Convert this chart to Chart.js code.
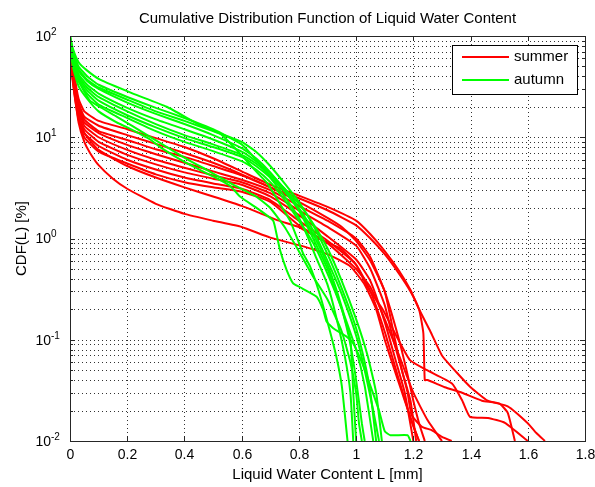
<!DOCTYPE html>
<html>
<head>
<meta charset="utf-8">
<script src="https://cdn.jsdelivr.net/npm/chart.js@4.4.1/dist/chart.umd.min.js"></script>
<style>
  html, body { margin: 0; padding: 0; background: #fff; }
  #wrap { width: 595px; height: 487px; }
</style>
</head>
<body>
<div id="wrap"><canvas id="cdfChart" width="595" height="487"></canvas></div>
<script>
// axis ticks: L in mm, CDF in decades (10^n %)
const lwcTicks = [0, 0.2, 0.4, 0.6, 0.8, 1, 1.2, 1.4, 1.6, 1.8];
const cdfDecades = [-2, -1, 0, 1, 2];
const seasonNames = ['summer', 'autumn'];

// summer runs, [L, CDF %]
const summerRuns = [
  [[0.004,78],[0.015,42],[0.03,24],[0.05,18],[0.1,14.5],[0.2,12],[0.3,9.8],[0.4,8],[0.5,6.2],[0.6,4.6],[0.7,3.4],[0.8,2.65],[0.9,2.05],[1.0,1.5],[1.05,1.1],[1.1,0.75],[1.15,0.48],[1.19,0.31],[1.22,0.2],[1.26,0.12],[1.3,0.07],[1.35,0.048],[1.4,0.034],[1.46,0.025],[1.53,0.022],[1.6,0.015],[1.63,0.012],[1.66,0.01]],
  [[0.004,70],[0.015,38],[0.03,21],[0.05,15],[0.1,11.5],[0.2,9.4],[0.3,7.6],[0.4,6.4],[0.5,5.2],[0.6,4.2],[0.7,3.2],[0.8,2.5],[0.9,1.9],[1.0,1.35],[1.05,1.0],[1.1,0.7],[1.15,0.45],[1.19,0.3],[1.22,0.2],[1.235,0.116],[1.24,0.04],[1.25,0.04],[1.31,0.034],[1.37,0.03],[1.44,0.025],[1.5,0.0235],[1.53,0.019],[1.555,0.01]],
  [[0.004,60],[0.015,33],[0.03,17],[0.05,11],[0.1,7.5],[0.2,5.2],[0.3,4.0],[0.4,3.2],[0.5,2.6],[0.6,2.1],[0.66,1.8],[0.73,1.5],[0.8,1.3],[0.87,1.0],[0.944,0.8],[1.0,0.55],[1.04,0.33],[1.094,0.197],[1.143,0.106],[1.188,0.063],[1.248,0.05],[1.335,0.037],[1.37,0.0254],[1.398,0.0173],[1.461,0.0169],[1.52,0.0151],[1.6,0.01]],
  [[0.004,52],[0.015,28],[0.03,14],[0.05,9],[0.07,7],[0.1,5.3],[0.15,3.9],[0.2,3.1],[0.3,2.2],[0.4,1.75],[0.5,1.5],[0.6,1.3],[0.7,1.02],[0.8,0.86],[0.9,0.7],[0.98,0.53],[1.03,0.35],[1.07,0.2],[1.1,0.1],[1.14,0.045],[1.17,0.025],[1.2,0.014],[1.22,0.01]],
  [[0.004,72],[0.015,40],[0.03,22],[0.05,16],[0.1,13],[0.2,10.5],[0.3,8.6],[0.4,7.0],[0.5,5.6],[0.6,4.3],[0.7,3.2],[0.8,2.3],[0.9,1.6],[0.95,1.3],[1.0,0.95],[1.05,0.6],[1.1,0.3],[1.136,0.1],[1.16,0.05],[1.18,0.03],[1.194,0.018],[1.23,0.0138],[1.264,0.0128],[1.3,0.011],[1.334,0.01]],
  [[0.004,65],[0.015,36],[0.03,20],[0.05,14],[0.1,11],[0.2,8.4],[0.3,6.8],[0.4,5.6],[0.5,4.6],[0.6,3.8],[0.7,3.0],[0.8,2.1],[0.9,1.5],[1.0,1.0],[1.05,0.65],[1.1,0.3],[1.15,0.1],[1.18,0.045],[1.2,0.025],[1.22,0.015],[1.24,0.01]],
  [[0.004,58],[0.015,34],[0.03,19],[0.05,13],[0.1,10],[0.2,7.5],[0.3,6.0],[0.4,5.0],[0.5,4.2],[0.6,3.6],[0.7,2.8],[0.8,1.9],[0.9,1.3],[1.0,0.85],[1.05,0.5],[1.1,0.22],[1.13,0.1],[1.16,0.05],[1.19,0.025],[1.21,0.01]],
  [[0.004,55],[0.015,31],[0.03,17],[0.05,12],[0.1,9],[0.2,6.7],[0.3,5.4],[0.4,4.5],[0.5,3.9],[0.6,3.4],[0.7,2.6],[0.8,1.7],[0.9,1.05],[1.0,0.62],[1.05,0.38],[1.1,0.15],[1.14,0.06],[1.17,0.03],[1.2,0.01]],
  [[0.004,50],[0.015,29],[0.03,16],[0.05,11],[0.1,8.2],[0.2,6.0],[0.3,4.8],[0.4,4.0],[0.5,3.5],[0.6,3.1],[0.7,2.4],[0.8,1.5],[0.9,0.95],[1.0,0.55],[1.05,0.3],[1.1,0.12],[1.15,0.04],[1.19,0.017],[1.22,0.01]],
  [[0.004,48],[0.015,27],[0.03,15],[0.05,10],[0.1,7.2],[0.2,5.5],[0.3,4.3],[0.4,3.6],[0.5,3.2],[0.6,2.9],[0.7,2.3],[0.8,1.35],[0.9,0.9],[1.0,0.5],[1.05,0.33],[1.1,0.16],[1.15,0.07],[1.2,0.03],[1.25,0.016],[1.3,0.01]]
];

// autumn runs, [L, CDF %]
const autumnRuns = [
  [[0,100],[0.01,75],[0.03,55],[0.058,46],[0.105,37],[0.22,27],[0.338,20],[0.454,13.2],[0.524,10.9],[0.571,8.1],[0.618,5.8],[0.66,4.3],[0.69,3.5],[0.734,2.2],[0.769,1.5],[0.792,1.04],[0.815,0.71],[0.839,0.53],[0.87,0.3],[0.9,0.15],[0.93,0.07],[0.95,0.035],[0.97,0.01]],
  [[0,100],[0.01,70],[0.03,50],[0.06,40],[0.1,33],[0.2,25],[0.3,19.5],[0.4,15.5],[0.5,12],[0.6,8.5],[0.65,6.0],[0.7,4.0],[0.75,2.6],[0.8,1.6],[0.83,1.05],[0.86,0.65],[0.9,0.35],[0.93,0.17],[0.96,0.07],[0.98,0.03],[0.99,0.01]],
  [[0,95],[0.01,65],[0.03,45],[0.06,36],[0.1,30],[0.2,22],[0.3,17],[0.4,13.5],[0.5,10.5],[0.6,7.8],[0.65,6.2],[0.7,4.5],[0.75,3.0],[0.8,1.9],[0.85,1.0],[0.9,0.5],[0.95,0.2],[0.98,0.09],[1.0,0.04],[1.02,0.015],[1.03,0.01]],
  [[0,95],[0.01,62],[0.03,42],[0.06,33],[0.1,27],[0.2,19.5],[0.3,15],[0.4,12],[0.5,9.5],[0.6,7.2],[0.65,5.8],[0.7,4.4],[0.75,3.1],[0.8,2.0],[0.85,1.2],[0.9,0.6],[0.95,0.28],[1.0,0.11],[1.03,0.05],[1.06,0.02],[1.08,0.01]],
  [[0,90],[0.01,60],[0.03,40],[0.06,31],[0.1,25],[0.2,18],[0.3,13.5],[0.4,10.5],[0.5,8.5],[0.6,6.7],[0.65,5.5],[0.7,4.2],[0.75,3.1],[0.8,2.2],[0.85,1.4],[0.9,0.8],[0.95,0.38],[1.0,0.16],[1.04,0.07],[1.07,0.03],[1.09,0.01]],
  [[0,90],[0.01,58],[0.03,38],[0.06,29],[0.1,23],[0.2,16.5],[0.3,12.5],[0.4,9.8],[0.5,8.0],[0.6,6.4],[0.65,5.2],[0.7,4.0],[0.75,2.9],[0.8,1.9],[0.85,1.1],[0.9,0.55],[0.93,0.32],[0.96,0.17],[1.0,0.08],[1.03,0.035],[1.06,0.01]],
  [[0,85],[0.01,55],[0.03,36],[0.06,27],[0.1,21],[0.2,15.5],[0.3,11.5],[0.4,9.0],[0.5,7.3],[0.6,5.8],[0.65,4.8],[0.7,3.6],[0.75,2.4],[0.8,1.5],[0.85,0.9],[0.9,0.45],[0.95,0.2],[0.98,0.1],[0.99,0.03],[1.0,0.01]],
  [[0,85],[0.01,50],[0.03,32],[0.06,24],[0.1,18],[0.163,14],[0.2,12.5],[0.28,9.5],[0.32,7.8],[0.4,5.7],[0.5,4.1],[0.56,3.3],[0.594,2.6],[0.664,1.9],[0.71,1.5],[0.722,1.1],[0.734,0.77],[0.757,0.49],[0.78,0.36],[0.804,0.33],[0.862,0.266],[0.885,0.197],[0.897,0.151],[0.92,0.13],[0.967,0.107],[0.99,0.092],[1.02,0.06],[1.05,0.035],[1.08,0.02],[1.1,0.0125],[1.12,0.0114],[1.18,0.0114],[1.19,0.01]],
  [[0,90],[0.01,55],[0.03,36],[0.07,23],[0.163,16],[0.28,10.1],[0.395,6.4],[0.478,4.75],[0.57,3.4],[0.65,2.6],[0.7,2.0],[0.75,1.3],[0.8,0.75],[0.85,0.42],[0.9,0.25],[0.95,0.12],[0.98,0.06],[1.0,0.03],[1.01,0.015],[1.02,0.01]],
  [[0,100],[0.01,68],[0.03,47],[0.06,37],[0.1,31],[0.2,23.5],[0.3,18],[0.4,14.5],[0.5,11.5],[0.6,9],[0.65,7.2],[0.7,5.2],[0.75,3.5],[0.8,2.3],[0.85,1.35],[0.9,0.7],[0.95,0.32],[1.0,0.13],[1.03,0.06],[1.05,0.03],[1.07,0.01]]
];

const RED = '#ff0000';
const GREEN = '#00ff00';
const FONT = '"Liberation Sans", Arial, Helvetica, sans-serif';

function toDataset(run, color, name) {
  return {
    label: name,
    data: run.map(p => ({ x: p[0], y: p[1] })),
    borderColor: color,
    borderWidth: 2,
    pointRadius: 0,
    tension: 0.15,
    fill: false,
    clip: 0
  };
}

// green first so it is drawn on top of the red runs
const datasets = [
  ...autumnRuns.map(r => toDataset(r, GREEN, seasonNames[1])),
  ...summerRuns.map(r => toDataset(r, RED, seasonNames[0]))
];

// matlab-ish frame: dotted grid, inward ticks on all sides, 10^n labels, legend box
const matlabFrame = {
  id: 'matlabFrame',
  beforeDatasetsDraw(chart) {
    const { ctx, chartArea: a, scales: { x, y } } = chart;
    ctx.save();
    ctx.strokeStyle = 'rgba(0,0,0,0.8)';
    ctx.lineWidth = 1;
    ctx.setLineDash([1, 3]);
    lwcTicks.forEach(v => {
      if (v <= x.min || v >= x.max) return;
      const px = Math.round(x.getPixelForValue(v)) + 0.5;
      ctx.beginPath(); ctx.moveTo(px, a.top); ctx.lineTo(px, a.bottom); ctx.stroke();
    });
    for (let d = cdfDecades[0]; d < cdfDecades[cdfDecades.length - 1]; d++) {
      for (let m = 1; m <= 9; m++) {
        if (m === 1 && d === cdfDecades[0]) continue;
        const py = Math.round(y.getPixelForValue(m * Math.pow(10, d))) + 0.5;
        ctx.beginPath(); ctx.moveTo(a.left, py); ctx.lineTo(a.right, py); ctx.stroke();
      }
    }
    ctx.restore();
  },
  afterDatasetsDraw(chart) {
    const { ctx, chartArea: a, scales: { x, y } } = chart;
    ctx.save();
    ctx.strokeStyle = '#262626';
    ctx.lineWidth = 1;
    ctx.setLineDash([]);
    ctx.strokeRect(a.left + 0.5, a.top + 0.5, a.right - a.left, a.bottom - a.top);

    // x ticks + labels
    ctx.fillStyle = '#000';
    ctx.font = '14px ' + FONT;
    ctx.textAlign = 'center';
    ctx.textBaseline = 'middle';
    lwcTicks.forEach(v => {
      const px = Math.round(x.getPixelForValue(v)) + 0.5;
      ctx.beginPath();
      ctx.moveTo(px, a.bottom); ctx.lineTo(px, a.bottom - 5);
      ctx.moveTo(px, a.top); ctx.lineTo(px, a.top + 5);
      ctx.stroke();
      ctx.fillText(String(v), px, a.bottom + 14);
    });

    // y ticks: major at decades, minor at 2..9
    for (let d = cdfDecades[0]; d <= cdfDecades[cdfDecades.length - 1]; d++) {
      for (let m = 1; m <= 9; m++) {
        if (d === cdfDecades[cdfDecades.length - 1] && m > 1) break;
        const py = Math.round(y.getPixelForValue(m * Math.pow(10, d))) + 0.5;
        const len = m === 1 ? 5 : 3;
        ctx.beginPath();
        ctx.moveTo(a.left, py); ctx.lineTo(a.left + len, py);
        ctx.moveTo(a.right, py); ctx.lineTo(a.right - len, py);
        ctx.stroke();
      }
    }
    cdfDecades.forEach(d => {
      const py = y.getPixelForValue(Math.pow(10, d));
      ctx.font = '14px ' + FONT;
      ctx.textAlign = 'right';
      ctx.fillText('10', 51, py + 1);
      ctx.font = '10px ' + FONT;
      ctx.textAlign = 'left';
      ctx.fillText(String(d).replace('-', '-'), 51, py - 4);
    });

    // titles
    ctx.font = '15px ' + FONT;
    ctx.textAlign = 'center';
    ctx.fillText('Cumulative Distribution Function of Liquid Water Content', (a.left + a.right) / 2, 19);
    ctx.fillText('Liquid Water Content L [mm]', (a.left + a.right) / 2, 475);
    ctx.save();
    ctx.translate(22, (a.top + a.bottom) / 2);
    ctx.rotate(-Math.PI / 2);
    ctx.fillText('CDF(L) [%]', 0, 0);
    ctx.restore();

    // legend
    const lx = 452, ly = 45, lw = 125, lh = 49;
    ctx.fillStyle = '#fff';
    ctx.fillRect(lx, ly, lw, lh);
    ctx.strokeStyle = '#000';
    ctx.strokeRect(lx + 0.5, ly + 0.5, lw, lh);
    [[RED, seasonNames[0], 57], [GREEN, seasonNames[1], 80]].forEach(([c, name, yy]) => {
      ctx.strokeStyle = c;
      ctx.lineWidth = 2;
      ctx.beginPath(); ctx.moveTo(462, yy); ctx.lineTo(509, yy); ctx.stroke();
      ctx.fillStyle = '#000';
      ctx.font = '15px ' + FONT;
      ctx.textAlign = 'left';
      ctx.fillText(name, 514, yy);
    });
    ctx.restore();
  }
};

new Chart(document.getElementById('cdfChart'), {
  type: 'line',
  data: { datasets },
  options: {
    responsive: false,
    animation: false,
    devicePixelRatio: 1,
    layout: { padding: { left: 70, top: 36, right: 10, bottom: 46 } },
    scales: {
      x: { type: 'linear', min: 0, max: 1.8, display: false },
      y: { type: 'logarithmic', min: 0.01, max: 100, display: false }
    },
    plugins: {
      legend: { display: false },
      tooltip: { enabled: false }
    }
  },
  plugins: [matlabFrame]
});
</script>
</body>
</html>
